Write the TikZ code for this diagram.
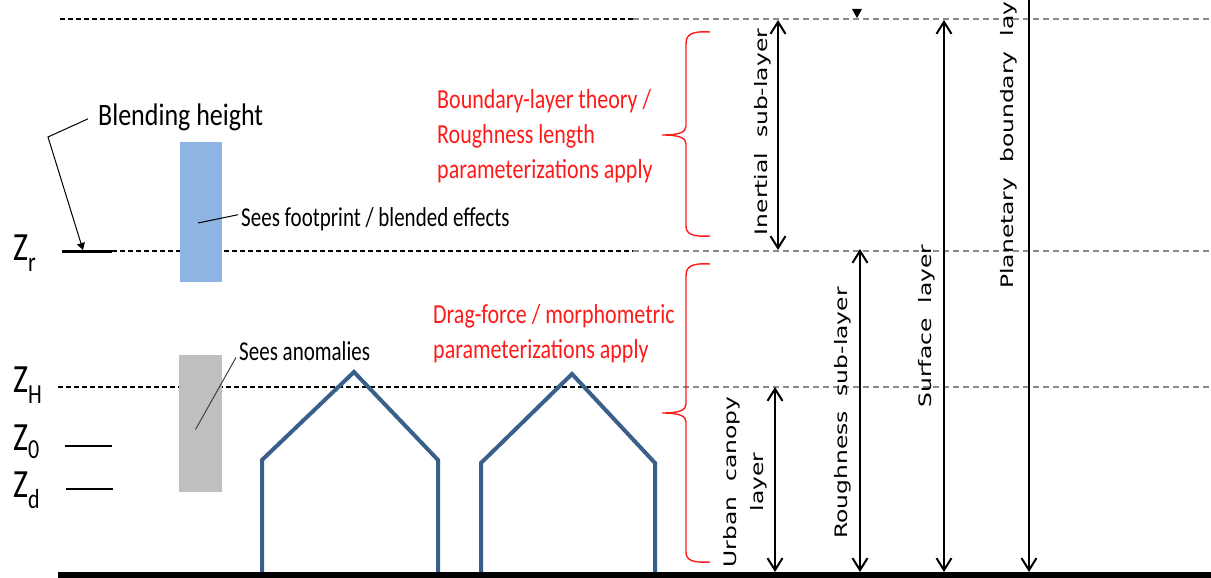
\documentclass[tikz,border=0pt]{standalone}
\usepackage{fontspec}
\setmainfont{Carlito}
\newfontfamily\layerfont{DejaVu Sans}
\usepackage{tikz}
\usetikzlibrary{arrows.meta, positioning, calc}

\definecolor{houseblue}{HTML}{3A5F8B}
\definecolor{boxblue}{HTML}{8EB4E3}
\definecolor{boxgray}{HTML}{BFBFBF}
\definecolor{dashgray}{HTML}{8A8A8A}
\definecolor{paramred}{HTML}{FF1A1A}

\begin{document}
\begin{tikzpicture}[x=1pt, y=-1pt,
  zlbl/.style   = {anchor=base west, inner sep=0pt, yscale=1.25,
                   font=\fontsize{32}{32}\selectfont},
  note/.style   = {anchor=base west, inner sep=0pt, yscale=1.3,
                   font=\fontsize{21}{21}\selectfont},
  param/.style  = {anchor=west, inner sep=0pt, align=left, yscale=1.25,
                   text=paramred, font=\fontsize{22}{28}\selectfont},
  vlbl/.style   = {inner sep=0pt, rotate=90, xscale=1.36, align=center,
                   font=\layerfont\fontsize{17.2}{27}\selectfont},
  probe/.style  = {draw=none, inner sep=0pt, minimum width=42pt},
  dim/.style    = {<->, line width=2pt, >={Straight Barb[length=12pt,width=15pt]}},
  down/.style   = {->, line width=2pt, >={Straight Barb[length=12pt,width=15pt]}},
  dline/.style  = {dash pattern=on 5pt off 3pt, line width=1.2pt},
  gline/.style  = {draw=dashgray, dash pattern=on 6pt off 4pt, line width=2.2pt},
  zmark/.style  = {line width=2.8pt},
  leader/.style = {line width=1pt},
  brc/.style    = {draw=paramred, line width=1.4pt},
  house/.style  = {draw=houseblue, line width=4pt, miter limit=10},
]
\useasboundingbox (0,0) rectangle (1211,578);
\clip (0,0) rectangle (1211,578);

%% -- height levels ---------------------------------------------------------
\coordinate (ltop) at (0,20);
\coordinate (lzr)  at (0,250);
\coordinate (lzh)  at (0,387);
\coordinate (lgnd) at (0,572);

\draw[dline] (60,19)  -- (633,19);   \draw[gline] (633,19)  -- (1211,19);
\draw[dline] (112,251) -- (633,251); \draw[gline] (633,251) -- (1211,251);
\draw[dline] (58,387)  -- (633,387); \draw[gline] (633,387) -- (1211,387);

%% -- heights on the left ---------------------------------------------------
\coordinate (zrl) at (62,251);
\coordinate (zrr) at (112,251);
\draw[zmark, line width=3pt] (zrl) -- (zrr);
\draw[zmark] (65,446) -- (112,446);
\draw[zmark] (66,489) -- (113,489);

\node[zlbl] (zr) at (13,260) {Z\raisebox{-9pt}{\fontsize{22}{22}\selectfont r}};
\node[zlbl] (zh) at (13,392) {Z\raisebox{-9pt}{\fontsize{22}{22}\selectfont H}};
\node[zlbl] (z0) at (13,450) {Z\raisebox{-7pt}{\fontsize{22}{22}\selectfont 0}};
\node[zlbl] (zd) at (13,497) {Z\raisebox{-9pt}{\fontsize{22}{22}\selectfont d}};

\node[anchor=base west, inner sep=0pt, yscale=1.2,
      font=\fontsize{26}{26}\selectfont] (blend) at (98,125) {Blending height};
\coordinate (bendpt) at (48,137);
\draw[leader, -{Triangle[length=7pt,width=8pt]}]
  ([xshift=-10pt,yshift=-2pt]blend.west) -- (bendpt) -- ($(zrl)!0.42!(zrr)+(0,-1)$);

%% -- sensors ---------------------------------------------------------------
\node[probe, fill=boxblue, minimum height=140pt] (foot) at (201,212) {};
\node[probe, fill=boxgray, minimum height=137pt, minimum width=43pt] (anom) at (200.5,423.5) {};

\node[note] (footlbl) at (241,226) {Sees footprint / blended effects};
\node[note] (anomlbl) at (239,360) {Sees anomalies};
\draw[leader] (footlbl.west) ++(-3,-4) -- ([xshift=-3pt,yshift=-11pt]foot.center);
\draw[leader, draw=black!75] ([xshift=-3pt,yshift=3pt]anomlbl.south west) -- ([xshift=-5pt,yshift=-6pt]anom.center);

%% -- buildings -------------------------------------------------------------
\draw[house] (262,577) -- (262,460) -- (354,372) -- (438,460) -- (438,577);
\draw[house] (481,577) -- (481,463) -- (572,374) -- (655,463) -- (655,577);

%% -- parameterisations -----------------------------------------------------
\node[param] (bltheory) at (437,136)
  {Boundary-layer theory /\\Roughness length\\parameterizations apply};
\node[param] (dragforce) at (433,334)
  {Drag-force / morphometric\\parameterizations apply};

\draw[brc] (710,32) .. controls (692,31) and (686,34) .. (686,44) -- (686,126)
  .. controls (686,132) and (680,135) .. (662,135)
  .. controls (680,135) and (686,138) .. (686,144) -- (686,226)
  .. controls (686,234) and (692,237) .. (710,236);
\draw[brc] (710,264) .. controls (692,263) and (686,266) .. (686,276) -- (686,404)
  .. controls (686,410) and (680,413) .. (662,413)
  .. controls (680,413) and (686,416) .. (686,422) -- (686,552)
  .. controls (686,560) and (692,563) .. (710,562);

%% -- layers ----------------------------------------------------------------
\coordinate (cin) at (778,0);
\coordinate (cuc) at (775,0);
\coordinate (crs) at (860,0);
\coordinate (csf) at (944,0);
\coordinate (cpb) at (1029,-5);

\draw[dim] (cin |- ltop) -- (cin |- lzr);
\draw[dim] (cuc |- lzh) -- (cuc |- lgnd);
\draw[dim] ([yshift=1pt]crs |- lzr) -- (crs |- lgnd);
\draw[dim] (csf |- ltop) -- (csf |- lgnd);
\draw[down] (cpb) -- (cpb |- lgnd);
\fill (852,9) -- (862,9) -- (857,18) -- cycle;

\node[vlbl] (inertial)  at (763,132) {Inertial\ \ sub-layer};
\node[vlbl] (canopy)    at (745,482) {Urban\ \ canopy\\layer};
\node[vlbl] (roughness) at (843,413) {Roughness\ \ sub-layer};
\node[vlbl] (surface)   at (927,326) {Surface\ \ layer};
\node[vlbl, anchor=west] (planetary) at (1009,289) {Planetary\ \ boundary\ \ layer};

%% -- ground ----------------------------------------------------------------
\draw[line width=7pt] (58,575) -- (1211,575);

\end{tikzpicture}
\end{document}
